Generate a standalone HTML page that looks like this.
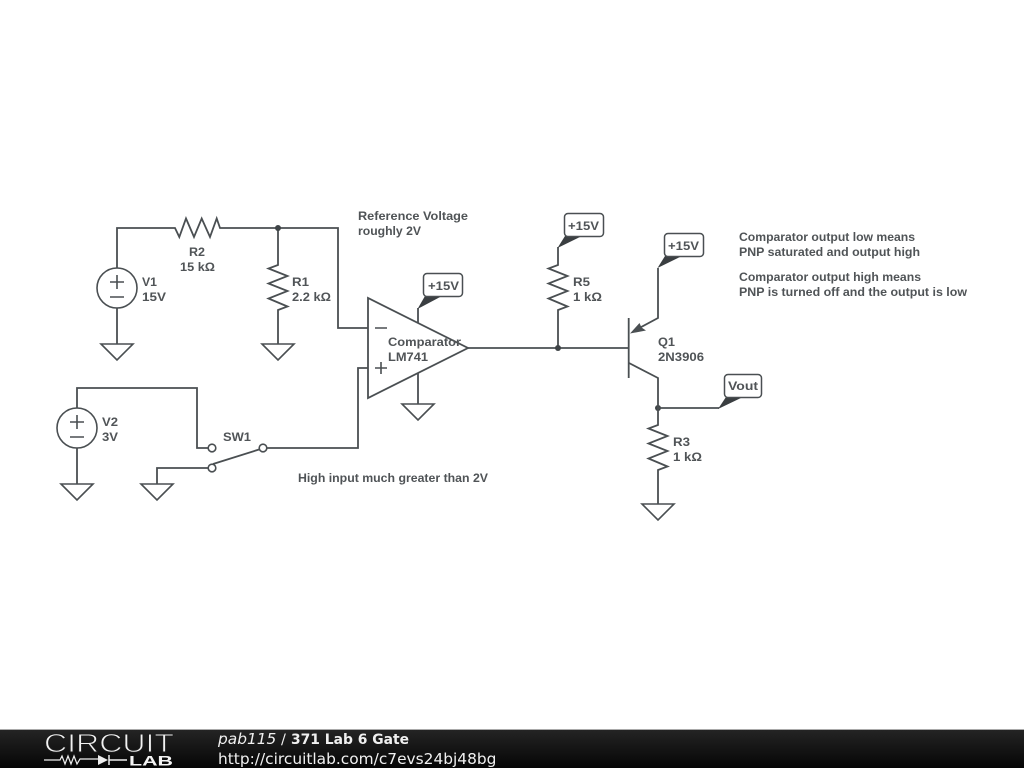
<!DOCTYPE html>
<html><head><meta charset="utf-8"><style>
html,body{margin:0;padding:0;background:#fff;width:1024px;height:768px;overflow:hidden}
svg{display:block}
.w{fill:none;stroke:#4a4f52;stroke-width:1.8}
.t{fill:none;stroke:#4a4f52;stroke-width:1.6}
text.l{font-family:"Liberation Sans",sans-serif;font-size:12.4px;font-weight:700;fill:#505457}
.f{font-family:"DejaVu Sans",sans-serif;fill:#f0f0f0}
</style></head><body>
<svg width="1024" height="768" viewBox="0 0 1024 768" xmlns="http://www.w3.org/2000/svg">
<defs><linearGradient id="g" x1="0" y1="0" x2="0" y2="1"><stop offset="0" stop-color="#242424"/><stop offset="1" stop-color="#050505"/></linearGradient></defs>
<rect width="1024" height="768" fill="#fff"/>
<!-- wires -->
<path class="w" d="M117 268V228H175L179.3 237L186 218.5L194 237L201.7 218.5L210 237L216.7 218.5L220 228H338V328H368"/>
<path class="w" d="M117 308V344"/>
<path class="w" d="M278 228V265L268.5 268.5L287.5 276L268.5 283.5L287.5 291L268.5 298.5L287.5 306.5L278 310V344"/>
<circle cx="117" cy="288" r="20" class="t"/>
<path class="t" d="M110 282H124M117 275V289M110 297H124"/>
<path class="t" d="M101 344H133L117 360Z"/>
<path class="t" d="M262 344H294L278 360Z"/>
<!-- V2 -->
<path class="w" d="M77 408V388H197V448H208"/>
<path class="w" d="M77 448V484"/>
<circle cx="77" cy="428" r="20" class="t"/>
<path class="t" d="M70 422H84M77 415V429M70 437H84"/>
<path class="t" d="M61 484H93L77 500Z"/>
<!-- switch -->
<circle cx="212" cy="448" r="3.8" class="t"/>
<circle cx="212" cy="468" r="3.8" class="t"/>
<circle cx="263" cy="448" r="3.8" class="t"/>
<path class="w" d="M208 468H157V484"/>
<path class="w" d="M213 464L259 449.5"/>
<path class="t" d="M141 484H173L157 500Z"/>
<path class="w" d="M267 448H358V368H368"/>
<!-- opamp -->
<path class="w" d="M368 298V398L468 348Z" stroke-linejoin="miter"/>
<path class="t" d="M375 328H387M375 368H387M381 362V374"/>
<path class="w" d="M468 348H628"/>
<path class="w" d="M418 323V308"/>
<path class="w" d="M418 373V404"/>
<path class="t" d="M402 404H434L418 420Z"/>
<!-- R5 -->
<path class="w" d="M558 247V265L548.5 268.5L567.5 276L548.5 283.500L567.5 291L548.5 298.5L567.5 306.5L558 310V348"/>
<circle cx="558" cy="348" r="3" fill="#3f4447"/>
<circle cx="278" cy="228" r="3" fill="#3f4447"/>
<circle cx="658" cy="408" r="3" fill="#3f4447"/>
<!-- Q1 -->
<path class="w" d="M628.7 318V378"/>
<path class="w" d="M658 268V318L636 329.8"/>
<path fill="#4a4f52" d="M630 333.500L639.500 323L641.500 327.500L646 330.500Z"/>
<path class="w" d="M629 363L658 378V425L648.5 428.5L667.5 436L648.5 443.5L667.5 451L648.5 458.5L667.5 466.5L658 470V504"/>
<path class="t" d="M642 504H674L658 520Z"/>
<path class="w" d="M658 408H719"/>
<!-- tags -->
<path fill="#3a3e41" d="M417.500 309L425 296H442Z"/>
<rect x="423.500" y="273.500" width="39" height="23" rx="3.5" fill="#fff" stroke="#4a4f52" stroke-width="1.5"/>
<path fill="#3a3e41" d="M557.500 248L565 236H582Z"/>
<rect x="564.500" y="213.500" width="39" height="23" rx="3.5" fill="#fff" stroke="#4a4f52" stroke-width="1.500"/>
<path fill="#3a3e41" d="M657.500 268L665 256H682Z"/>
<rect x="664.500" y="233.500" width="39" height="23" rx="3.5" fill="#fff" stroke="#4a4f52" stroke-width="1.500"/>
<path fill="#3a3e41" d="M718 409L726 397H743Z"/>
<rect x="724.500" y="374.500" width="37" height="23" rx="3.500" fill="#fff" stroke="#4a4f52" stroke-width="1.500"/>
<!-- labels -->
<g lengthAdjust="spacingAndGlyphs">
<text class="l" x="189" y="256" textLength="16" lengthAdjust="spacingAndGlyphs">R2</text>
<text class="l" x="180" y="271" textLength="35" lengthAdjust="spacingAndGlyphs">15 kΩ</text>
<text class="l" x="142" y="286" textLength="15" lengthAdjust="spacingAndGlyphs">V1</text>
<text class="l" x="142" y="301" textLength="24" lengthAdjust="spacingAndGlyphs">15V</text>
<text class="l" x="292" y="286" textLength="17" lengthAdjust="spacingAndGlyphs">R1</text>
<text class="l" x="292" y="301" textLength="39" lengthAdjust="spacingAndGlyphs">2.2 kΩ</text>
<text class="l" x="358" y="220" textLength="110" lengthAdjust="spacingAndGlyphs">Reference Voltage</text>
<text class="l" x="358" y="235" textLength="63" lengthAdjust="spacingAndGlyphs">roughly 2V</text>
<text class="l" x="388" y="346" textLength="73" lengthAdjust="spacingAndGlyphs">Comparator</text>
<text class="l" x="388" y="361" textLength="40" lengthAdjust="spacingAndGlyphs">LM741</text>
<text class="l" x="102" y="426" textLength="16" lengthAdjust="spacingAndGlyphs">V2</text>
<text class="l" x="102" y="441" textLength="16" lengthAdjust="spacingAndGlyphs">3V</text>
<text class="l" x="223" y="441" textLength="28" lengthAdjust="spacingAndGlyphs">SW1</text>
<text class="l" x="298" y="482" textLength="190" lengthAdjust="spacingAndGlyphs">High input much greater than 2V</text>
<text class="l" x="573" y="286" textLength="17" lengthAdjust="spacingAndGlyphs">R5</text>
<text class="l" x="573" y="301" textLength="29" lengthAdjust="spacingAndGlyphs">1 kΩ</text>
<text class="l" x="658" y="346" textLength="17" lengthAdjust="spacingAndGlyphs">Q1</text>
<text class="l" x="658" y="361" textLength="46" lengthAdjust="spacingAndGlyphs">2N3906</text>
<text class="l" x="673" y="446" textLength="17" lengthAdjust="spacingAndGlyphs">R3</text>
<text class="l" x="673" y="461" textLength="29" lengthAdjust="spacingAndGlyphs">1 kΩ</text>
<text class="l" x="428" y="290" textLength="31" lengthAdjust="spacingAndGlyphs">+15V</text>
<text class="l" x="568" y="230" textLength="31" lengthAdjust="spacingAndGlyphs">+15V</text>
<text class="l" x="668" y="250" textLength="31" lengthAdjust="spacingAndGlyphs">+15V</text>
<text class="l" x="728" y="390" textLength="30" lengthAdjust="spacingAndGlyphs">Vout</text>
<text class="l" x="739" y="241" textLength="176" lengthAdjust="spacingAndGlyphs">Comparator output low means</text>
<text class="l" x="739" y="256" textLength="181" lengthAdjust="spacingAndGlyphs">PNP saturated and output high</text>
<text class="l" x="739" y="281" textLength="182" lengthAdjust="spacingAndGlyphs">Comparator output high means</text>
<text class="l" x="739" y="296" textLength="228" lengthAdjust="spacingAndGlyphs">PNP is turned off and the output is low</text>
</g>
<!-- footer -->
<rect x="0" y="730" width="1024" height="38" fill="url(#g)"/>
<rect x="0" y="729" width="1024" height="1" fill="#aaa"/>
<text x="44" y="752" font-family="Liberation Sans,sans-serif" font-size="26" textLength="130" lengthAdjust="spacingAndGlyphs" fill="#f2f2f2" stroke="#1c1c1c" stroke-width=".9">CIRCUIT</text>
<path d="M44 760H60L62 756L65 764L68 756L71 764L74 756L77 764L80 759H98" fill="none" stroke="#eee" stroke-width="1.200"/>
<path d="M98 755L108 760L98 765Z" fill="#eee"/>
<path d="M109 755V765M109 760H127" fill="none" stroke="#eee" stroke-width="1.500"/>
<text x="129" y="765.500" font-family="Liberation Sans,sans-serif" font-size="14" font-weight="700" textLength="44" lengthAdjust="spacingAndGlyphs" fill="#f4f4f4">LAB</text>
<text class="f" x="218" y="744" font-size="15.4" font-style="italic">pab115</text>
<text class="f" x="281" y="744" font-size="14.5">/</text>
<text class="f" x="291" y="744" font-size="14" font-weight="700" textLength="118" lengthAdjust="spacingAndGlyphs">371 Lab 6 Gate</text>
<text class="f" x="218" y="764" font-size="15.4">http://circuitlab.com/c7evs24bj48bg</text>
</svg>
</body></html>
